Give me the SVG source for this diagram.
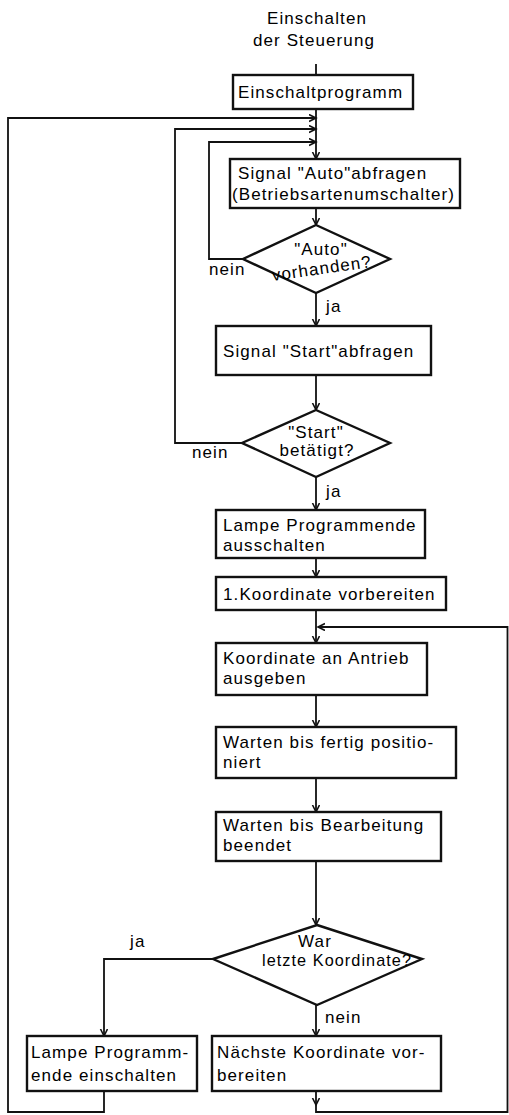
<svg xmlns="http://www.w3.org/2000/svg" width="509" height="1115" viewBox="0 0 509 1115">
<style>
text{font-family:"Liberation Sans",Arial,sans-serif;font-size:17px;fill:#000;letter-spacing:1.1px}
.box{fill:#fff;stroke:#111;stroke-width:2.4}
.c{fill:none;stroke:#111;stroke-width:1.8}
.m{text-anchor:middle}
</style>
<defs>
<marker id="a" markerUnits="userSpaceOnUse" markerWidth="10" markerHeight="10" refX="7" refY="4" orient="auto">
<path d="M0,0.5 L7,4 L0,7.5" fill="none" stroke="#111" stroke-width="1.6"/>
</marker>
</defs>
<g id="connectors">
<path class="c" d="M316,64 V75"/>
<path class="c" d="M316,109 V159" marker-end="url(#a)"/>
<path class="c" d="M104,1091 V1112 H8 V118 H316" marker-end="url(#a)"/>
<path class="c" d="M242,443 H175 V129 H316" marker-end="url(#a)"/>
<path class="c" d="M243,259 H209 V142 H316" marker-end="url(#a)"/>
<path class="c" d="M316,208 V225" marker-end="url(#a)"/>
<path class="c" d="M316,293 V326" marker-end="url(#a)"/>
<path class="c" d="M316,375 V410" marker-end="url(#a)"/>
<path class="c" d="M316,477 V510" marker-end="url(#a)"/>
<path class="c" d="M316,558 V577" marker-end="url(#a)"/>
<path class="c" d="M316,610 V643" marker-end="url(#a)"/>
<path class="c" d="M316,695 V727" marker-end="url(#a)"/>
<path class="c" d="M316,778 V812" marker-end="url(#a)"/>
<path class="c" d="M316,861 V925" marker-end="url(#a)"/>
<path class="c" d="M316,1005 V1036" marker-end="url(#a)"/>
<path class="c" d="M213,959 H104 V1036" marker-end="url(#a)"/>
<path class="c" d="M316,1091 V1105" marker-end="url(#a)"/>
<path class="c" d="M316,1104 V1112 H507.5 V627 H318" marker-end="url(#a)" stroke-width="1.4"/>
</g>
<g id="start">
<text class="m" x="317" y="24">Einschalten</text>
<text class="m" x="314" y="46">der Steuerung</text>
</g>
<g id="einschaltprogramm">
<rect class="box" x="233" y="75" width="180" height="34"/>
<text x="238" y="98">Einschaltprogramm</text>
</g>
<g id="signal-auto">
<rect class="box" x="230" y="159" width="230" height="49"/>
<text x="238" y="179">Signal "Auto"abfragen</text>
<text x="232" y="200">(Betriebsartenumschalter)</text>
</g>
<g id="auto-vorhanden">
<polygon class="box" points="316,225 390,259 316,293 243,259"/>
<text class="m" x="321" y="255">"Auto"</text>
<text class="m" x="322" y="274" transform="rotate(-8 322 270)">vorhanden?</text>
<text x="209" y="275">nein</text>
<text x="326" y="312">ja</text>
</g>
<g id="signal-start">
<rect class="box" x="216" y="326" width="215" height="49"/>
<text x="223" y="357">Signal "Start"abfragen</text>
</g>
<g id="start-betaetigt">
<polygon class="box" points="316,410 390,443 316,477 242,443"/>
<text class="m" x="316" y="438">"Start"</text>
<text class="m" x="317" y="456">betätigt?</text>
<text x="192" y="458">nein</text>
<text x="326" y="497">ja</text>
</g>
<g id="lampe-aus">
<rect class="box" x="216" y="510" width="209" height="48"/>
<text x="223" y="531">Lampe Programmende</text>
<text x="223" y="551">ausschalten</text>
</g>
<g id="erste-koordinate">
<rect class="box" x="216" y="577" width="230" height="33"/>
<text x="223" y="600">1.Koordinate vorbereiten</text>
</g>
<g id="koordinate-ausgeben">
<rect class="box" x="216" y="643" width="211" height="52"/>
<text x="223" y="664">Koordinate an Antrieb</text>
<text x="223" y="684">ausgeben</text>
</g>
<g id="warten-position">
<rect class="box" x="216" y="727" width="240" height="51"/>
<text x="223" y="748">Warten bis fertig positio-</text>
<text x="223" y="768">niert</text>
</g>
<g id="warten-bearbeitung">
<rect class="box" x="216" y="812" width="225" height="49"/>
<text x="223" y="831">Warten bis Bearbeitung</text>
<text x="223" y="851">beendet</text>
</g>
<g id="letzte-koordinate">
<polygon class="box" points="317,925 422,959 317,1005 213,959"/>
<text class="m" x="315" y="947">War</text>
<text x="262" y="966" textLength="150" lengthAdjust="spacingAndGlyphs">letzte Koordinate?</text>
<text x="130" y="947">ja</text>
<text x="325" y="1023">nein</text>
</g>
<g id="lampe-ein">
<rect class="box" x="27" y="1036" width="170" height="55"/>
<text x="31" y="1058">Lampe Programm-</text>
<text x="31" y="1081">ende einschalten</text>
</g>
<g id="naechste-koordinate">
<rect class="box" x="212" y="1036" width="229" height="55"/>
<text x="217" y="1058">Nächste Koordinate vor-</text>
<text x="217" y="1081">bereiten</text>
</g>
</svg>
